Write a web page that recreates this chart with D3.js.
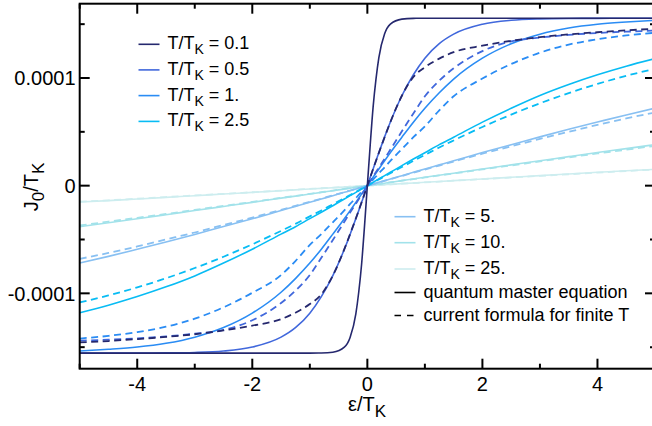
<!DOCTYPE html>
<html>
<head>
<meta charset="utf-8">
<script src="https://cdn.jsdelivr.net/npm/d3@7"></script>
<style>
  body { margin: 0; background: #fff; }
  svg { display: block; font-family: "Liberation Sans", Arial, Helvetica, sans-serif; }
</style>
</head>
<body>
<svg id="chart" width="652" height="426"></svg>
<script>
// Level energy eps/T_K (shared sampling grid for every curve)
const eps = [-5,-4.5,-4,-3.5,-3,-2.5,-2,-1.5,-1.25,-1,-0.8,-0.6,-0.4,-0.3,-0.2,-0.15,-0.1,-0.05,0,
             0.05,0.1,0.15,0.2,0.3,0.4,0.6,0.8,1,1.25,1.5,2,2.5,3,3.5,4,4.5,5];

// Current J_0/T_K in units of 1e-4 — quantum master equation (solid)
const qme01  = [-1.555,-1.555,-1.555,-1.555,-1.555,-1.555,-1.555,-1.555,-1.555,-1.555,-1.554,-1.547,-1.50,-1.41,-1.19,-0.99,-0.73,-0.38,0,0.38,0.73,0.99,1.19,1.41,1.50,1.547,1.554,1.555,1.555,1.555,1.555,1.555,1.555,1.555,1.555,1.555,1.555];
const qme05  = [-1.555,-1.555,-1.554,-1.553,-1.549,-1.536,-1.499,-1.407,-1.319,-1.184,-1.03,-0.835,-0.591,-0.453,-0.306,-0.232,-0.155,-0.078,0,0.078,0.155,0.232,0.306,0.453,0.591,0.835,1.03,1.184,1.319,1.407,1.499,1.536,1.549,1.553,1.554,1.555,1.555];
const qme1   = [-1.536,-1.52,-1.499,-1.464,-1.407,-1.318,-1.184,-0.99,-0.863,-0.719,-0.59,-0.45,-0.307,-0.232,-0.155,-0.117,-0.078,-0.039,0,0.039,0.078,0.117,0.155,0.232,0.307,0.45,0.59,0.719,0.863,0.99,1.184,1.318,1.407,1.464,1.499,1.52,1.536];
const qme25  = [-1.18,-1.11,-1.03,-0.94,-0.838,-0.719,-0.59,-0.45,-0.381,-0.306,-0.247,-0.186,-0.124,-0.093,-0.062,-0.047,-0.031,-0.016,0,0.016,0.031,0.047,0.062,0.093,0.124,0.186,0.247,0.306,0.381,0.45,0.59,0.719,0.838,0.94,1.03,1.11,1.18];
const qme5   = [-0.719,-0.657,-0.591,-0.524,-0.453,-0.38,-0.308,-0.231,-0.193,-0.155,-0.124,-0.093,-0.062,-0.047,-0.031,-0.023,-0.016,-0.008,0,0.008,0.016,0.023,0.031,0.047,0.062,0.093,0.124,0.155,0.193,0.231,0.308,0.38,0.453,0.524,0.591,0.657,0.719];
const qme10  = [-0.381,-0.344,-0.308,-0.27,-0.231,-0.193,-0.155,-0.116,-0.097,-0.078,-0.062,-0.047,-0.031,-0.023,-0.016,-0.012,-0.008,-0.004,0,0.004,0.008,0.012,0.016,0.023,0.031,0.047,0.062,0.078,0.097,0.116,0.155,0.193,0.231,0.27,0.308,0.344,0.381];
const qme250 = [-0.152,-0.139,-0.124,-0.109,-0.093,-0.078,-0.062,-0.047,-0.039,-0.031,-0.025,-0.019,-0.012,-0.009,-0.006,-0.005,-0.003,-0.002,0,0.002,0.003,0.005,0.006,0.009,0.012,0.019,0.025,0.031,0.039,0.047,0.062,0.078,0.093,0.109,0.124,0.139,0.152];

// Current formula for finite T (dashed), same units
const cf01  = [-1.456,-1.443,-1.425,-1.405,-1.38,-1.345,-1.30,-1.24,-1.18,-1.10,-1.01,-0.835,-0.59,-0.45,-0.305,-0.23,-0.155,-0.078,0,0.078,0.155,0.23,0.305,0.45,0.59,0.835,1.01,1.10,1.18,1.24,1.30,1.345,1.38,1.405,1.425,1.443,1.456];
const cf05  = [-1.44,-1.43,-1.418,-1.40,-1.375,-1.34,-1.25,-1.09,-0.975,-0.83,-0.67,-0.505,-0.335,-0.25,-0.168,-0.126,-0.084,-0.042,0,0.042,0.084,0.126,0.168,0.25,0.335,0.505,0.67,0.83,0.975,1.09,1.25,1.34,1.375,1.40,1.418,1.43,1.44];
const cf1   = [-1.42,-1.395,-1.36,-1.31,-1.235,-1.13,-0.995,-0.83,-0.70,-0.55,-0.45,-0.34,-0.23,-0.17,-0.115,-0.085,-0.057,-0.028,0,0.028,0.057,0.085,0.115,0.17,0.23,0.34,0.45,0.55,0.70,0.83,0.995,1.13,1.235,1.31,1.36,1.395,1.42];
const cf25  = [-1.085,-1.02,-0.945,-0.86,-0.765,-0.66,-0.545,-0.42,-0.355,-0.285,-0.23,-0.173,-0.116,-0.087,-0.058,-0.044,-0.029,-0.0145,0,0.0145,0.029,0.044,0.058,0.087,0.116,0.173,0.23,0.285,0.355,0.42,0.545,0.66,0.765,0.86,0.945,1.02,1.085];
const cf5   = [-0.68,-0.625,-0.565,-0.50,-0.435,-0.365,-0.297,-0.224,-0.187,-0.15,-0.12,-0.09,-0.06,-0.045,-0.03,-0.0225,-0.015,-0.0075,0,0.0075,0.015,0.0225,0.03,0.045,0.06,0.09,0.12,0.15,0.187,0.224,0.297,0.365,0.435,0.50,0.565,0.625,0.68];
const cf10  = [-0.37,-0.334,-0.299,-0.263,-0.225,-0.188,-0.151,-0.113,-0.095,-0.076,-0.061,-0.046,-0.03,-0.0225,-0.015,-0.011,-0.008,-0.004,0,0.004,0.008,0.011,0.015,0.0225,0.03,0.046,0.061,0.076,0.095,0.113,0.151,0.188,0.225,0.263,0.299,0.334,0.37];
const cf250 = [-0.149,-0.136,-0.121,-0.106,-0.091,-0.076,-0.061,-0.046,-0.038,-0.030,-0.024,-0.018,-0.012,-0.009,-0.006,-0.005,-0.003,-0.002,0,0.002,0.003,0.005,0.006,0.009,0.012,0.018,0.024,0.030,0.038,0.046,0.061,0.076,0.091,0.106,0.121,0.136,0.149];

const yUnit = 1e-4;

// Temperatures, labels and colours
const tempLabels = ["0.1", "0.5", "1.", "2.5", "5.", "10.", "25."];
const tempColors = ["#25286e", "#4168dc", "#2a8cf4", "#08bcf4", "#88c0f2", "#a2e2ea", "#cdedef"];
const solidSeries = [qme01, qme05, qme1, qme25, qme5, qme10, qme250];
const dashedSeries = [cf01, cf05, cf1, cf25, cf5, cf10, cf250];

// Axis ticks
const xMajor = [-4, -2, 0, 2, 4];
const xMinor = [-5, -3, -1, 1, 3, 5];
const yMajor = [-1e-4, 0, 1e-4];
const yMajorLabels = ["-0.0001", "0", "0.0001"];
const yMinor = [-1.5e-4, -0.5e-4, 0.5e-4, 1.5e-4];

const svg = d3.select("#chart");
const pLeft = 79.7, pRight = 655, pTop = 3.7, pBottom = 368.7;

const x = d3.scaleLinear().domain([-5, 5]).range([pLeft, pRight]);
const y = d3.scaleLinear().domain([-1.7e-4, 1.69e-4]).range([pBottom, pTop]);

svg.append("defs").append("clipPath").attr("id", "plot")
  .append("rect").attr("x", pLeft).attr("y", pTop)
  .attr("width", pRight - pLeft).attr("height", pBottom - pTop);

const line = d3.line()
  .x((d, i) => x(eps[i]))
  .y(d => y(d * yUnit))
  .curve(d3.curveMonotoneX);

const plot = svg.append("g").attr("clip-path", "url(#plot)");

// Curves: hottest first so the sharp low-T curves stay on top
for (let k = solidSeries.length - 1; k >= 0; k--) {
  plot.append("path").attr("d", line(solidSeries[k]))
    .attr("fill", "none").attr("stroke", tempColors[k]).attr("stroke-width", 1.6);
  plot.append("path").attr("d", line(dashedSeries[k]))
    .attr("fill", "none").attr("stroke", tempColors[k]).attr("stroke-width", 1.8)
    .attr("stroke-dasharray", "7,4.5");
}

// Frame with inward ticks on all four sides
const axes = svg.append("g").attr("stroke", "#000");
axes.append("rect").attr("x", pLeft).attr("y", pTop)
  .attr("width", pRight - pLeft).attr("height", pBottom - pTop)
  .attr("fill", "none").attr("stroke-width", 2);

function xTicks(vals, len) {
  vals.forEach(v => {
    axes.append("line").attr("x1", x(v)).attr("x2", x(v)).attr("y1", pBottom).attr("y2", pBottom - len).attr("stroke-width", 2);
    axes.append("line").attr("x1", x(v)).attr("x2", x(v)).attr("y1", pTop).attr("y2", pTop + len).attr("stroke-width", 2);
  });
}
function yTicks(vals, len) {
  vals.forEach(v => {
    axes.append("line").attr("y1", y(v)).attr("y2", y(v)).attr("x1", pLeft).attr("x2", pLeft + len).attr("stroke-width", 2);
    axes.append("line").attr("y1", y(v)).attr("y2", y(v)).attr("x1", pRight).attr("x2", pRight - len).attr("stroke-width", 2);
  });
}
xTicks(xMajor, 10); xTicks(xMinor, 5);
yTicks(yMajor, 10); yTicks(yMinor, 5);

// Tick labels
svg.append("g").selectAll("text").data(xMajor).join("text")
  .attr("x", d => x(d)).attr("y", 390.5)
  .attr("text-anchor", "middle").attr("font-size", 20)
  .text(d => String(d));

svg.append("g").selectAll("text").data(yMajor).join("text")
  .attr("x", 75.5).attr("y", d => y(d)).attr("dy", "0.36em")
  .attr("text-anchor", "end").attr("font-size", 20)
  .text((d, i) => yMajorLabels[i]);

// Axis titles
const xt = svg.append("text").attr("x", 367).attr("y", 411)
  .attr("text-anchor", "middle").attr("font-size", 20);
xt.append("tspan").text("ε/T");
xt.append("tspan").attr("dy", 6).attr("font-size", 17).text("K");

const yt = svg.append("text").attr("transform", "translate(37.5,187) rotate(-90)")
  .attr("text-anchor", "middle").attr("font-size", 20);
yt.append("tspan").text("J");
yt.append("tspan").attr("dy", 6).attr("font-size", 17).text("0");
yt.append("tspan").attr("dy", -6).text("/T");
yt.append("tspan").attr("dy", 6).attr("font-size", 17).text("K");

// Legends
function tempEntry(k, lx, ly) {
  svg.append("line").attr("x1", lx).attr("x2", lx + 21).attr("y1", ly).attr("y2", ly)
    .attr("stroke", tempColors[k]).attr("stroke-width", 1.6);
  const t = svg.append("text").attr("x", lx + 29).attr("y", ly + 5).attr("font-size", 18);
  t.append("tspan").text("T/T");
  t.append("tspan").attr("dy", 5).attr("font-size", 14).text("K");
  t.append("tspan").attr("dy", -5).text(" = " + tempLabels[k]);
}
const legendTopY = [44.3, 69.9, 95.6, 121.4];
[0, 1, 2, 3].forEach((k, i) => tempEntry(k, 138.5, legendTopY[i]));
const legendLowY = [216.7, 242.7, 269];
[4, 5, 6].forEach((k, i) => tempEntry(k, 394.5, legendLowY[i]));

const styleEntries = [
  { y: 292.5, dash: null, label: "quantum master equation" },
  { y: 315.5, dash: "6.5,6", label: "current formula for finite T" }
];
styleEntries.forEach(e => {
  svg.append("line").attr("x1", 394.5).attr("x2", 415.5).attr("y1", e.y).attr("y2", e.y)
    .attr("stroke", "#000").attr("stroke-width", 1.6)
    .attr("stroke-dasharray", e.dash);
  svg.append("text").attr("x", 423.5).attr("y", e.y + 5.5).attr("font-size", 18).text(e.label);
});
</script>
</body>
</html>
